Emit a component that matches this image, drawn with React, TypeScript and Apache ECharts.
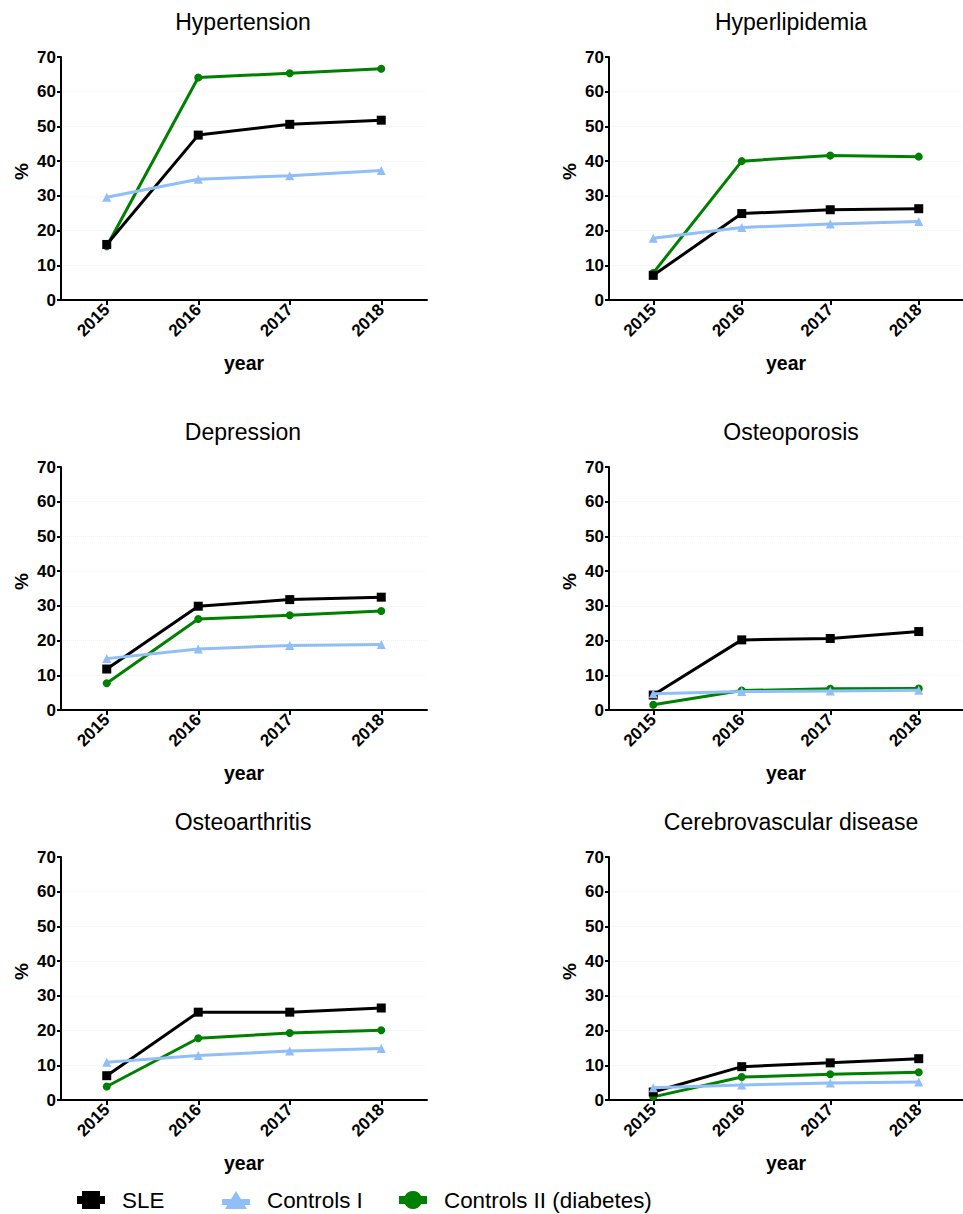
import React, { useEffect, useRef } from "react";
import * as echarts from "echarts";

const years = ["2015", "2016", "2017", "2018"];
const panelTitles = [
  "Hypertension",
  "Hyperlipidemia",
  "Depression",
  "Osteoporosis",
  "Osteoarthritis",
  "Cerebrovascular disease",
];
const yTicks = [0, 10, 20, 30, 40, 50, 60, 70];

// SLE
const hypertensionSLE = [16.0, 47.5, 50.6, 51.8];
const hyperlipidemiaSLE = [7.1, 24.9, 26.0, 26.3];
const depressionSLE = [11.8, 29.9, 31.8, 32.5];
const osteoporosisSLE = [4.3, 20.2, 20.6, 22.6];
const osteoarthritisSLE = [7.0, 25.3, 25.3, 26.5];
const cerebrovascularSLE = [2.3, 9.6, 10.7, 11.9];

// Controls I
const hypertensionC1 = [29.6, 34.8, 35.8, 37.3];
const hyperlipidemiaC1 = [17.8, 20.9, 21.9, 22.6];
const depressionC1 = [14.8, 17.6, 18.6, 18.9];
const osteoporosisC1 = [4.7, 5.3, 5.5, 5.7];
const osteoarthritisC1 = [10.9, 12.8, 14.1, 14.8];
const cerebrovascularC1 = [3.5, 4.3, 4.9, 5.2];

// Controls II (diabetes)
const hypertensionC2 = [15.5, 64.1, 65.3, 66.6];
const hyperlipidemiaC2 = [7.8, 40.0, 41.6, 41.3];
const depressionC2 = [7.7, 26.2, 27.3, 28.5];
const osteoporosisC2 = [1.5, 5.6, 6.1, 6.2];
const osteoarthritisC2 = [3.9, 17.8, 19.3, 20.1];
const cerebrovascularC2 = [0.9, 6.6, 7.4, 8.0];

const sleSets = [hypertensionSLE, hyperlipidemiaSLE, depressionSLE, osteoporosisSLE, osteoarthritisSLE, cerebrovascularSLE];
const c1Sets = [hypertensionC1, hyperlipidemiaC1, depressionC1, osteoporosisC1, osteoarthritisC1, cerebrovascularC1];
const c2Sets = [hypertensionC2, hyperlipidemiaC2, depressionC2, osteoporosisC2, osteoarthritisC2, cerebrovascularC2];

const seriesNames = ["SLE", "Controls I", "Controls II (diabetes)"];
const colors = ["#000000", "#90BEF8", "#008000"];
const legendIcons = [
  "path://M0,5 L5,5 L5,0 L23,0 L23,5 L28,5 L28,13 L23,13 L23,18 L5,18 L5,13 L0,13 Z",
  "path://M0,8 L9.1,8 L14,0 L18.9,8 L28,8 L28,14 L22.6,14 L25,18 L3,18 L5.4,14 L0,14 Z",
  "path://M0,5 L5.9,5 A9,9 0 0 1 22.1,5 L28,5 L28,13 L22.1,13 A9,9 0 0 1 5.9,13 L0,13 Z",
];

const FONT = "'Liberation Sans', Arial, Helvetica, sans-serif";

export default function App() {
  const ref = useRef<HTMLDivElement>(null);

  useEffect(() => {
    if (!ref.current) return;
    const chart = echarts.init(ref.current, null, { renderer: "svg" });

    const lefts = [61, 609];
    const tops = [57, 467, 857];
    const gw = 366;
    const gh = 243;

    const grids: any[] = [];
    const xAxes: any[] = [];
    const yAxes: any[] = [];
    const series: any[] = [];
    const graphics: any[] = [];

    for (let i = 0; i < 6; i++) {
      const col = i % 2;
      const row = Math.floor(i / 2);
      const left = lefts[col];
      const top = tops[row];
      grids.push({ left, top, width: gw, height: gh, containLabel: false });
      graphics.push({
        type: "text",
        x: left + gw / 2 - 1,
        y: top - 35,
        style: {
          text: panelTitles[i],
          font: `23px ${FONT}`,
          fill: "#000",
          textAlign: "center",
          textVerticalAlign: "middle",
        },
      });
      xAxes.push({
        type: "category",
        gridIndex: i,
        data: years,
        boundaryGap: true,
        name: "year",
        nameLocation: "middle",
        nameGap: 53,
        nameTextStyle: { fontFamily: FONT, fontWeight: "bold", fontSize: 19.5, color: "#000" },
        axisLine: { show: true, lineStyle: { color: "#000", width: 2 } },
        axisTick: { show: true, alignWithLabel: true, length: 5, lineStyle: { color: "#000", width: 2 } },
        axisLabel: { rotate: 45, margin: 7, fontFamily: FONT, fontWeight: "bold", fontSize: 17, color: "#000" },
        splitLine: { show: false },
      });
      yAxes.push({
        type: "value",
        gridIndex: i,
        min: yTicks[0],
        max: yTicks[yTicks.length - 1],
        interval: yTicks[1] - yTicks[0],
        name: "%",
        nameLocation: "middle",
        nameGap: 30,
        nameTextStyle: { fontFamily: FONT, fontWeight: "bold", fontSize: 19, color: "#000", padding: [0, 0, 0, 14] },
        axisLine: { show: true, lineStyle: { color: "#000", width: 2 } },
        axisTick: { show: true, length: 4, lineStyle: { color: "#000", width: 2 } },
        axisLabel: { margin: 5, fontFamily: FONT, fontWeight: "bold", fontSize: 17, color: "#000" },
        splitLine: { show: true, showMaxLine: false, showMinLine: false, lineStyle: { color: "#f0f0f0", width: 1, type: "dotted" } },
      });

      const common = {
        type: "line",
        xAxisIndex: i,
        yAxisIndex: i,
        emphasis: { disabled: true },
      };
      series.push({
        ...common,
        name: seriesNames[2],
        data: c2Sets[i],
        symbol: "circle",
        symbolSize: 8,
        itemStyle: { color: colors[2] },
        lineStyle: { width: 3, color: colors[2] },
        z: 2,
      });
      series.push({
        ...common,
        name: seriesNames[0],
        data: sleSets[i],
        symbol: "rect",
        symbolSize: 9,
        itemStyle: { color: colors[0] },
        lineStyle: { width: 3, color: colors[0] },
        z: 3,
      });
      series.push({
        ...common,
        name: seriesNames[1],
        data: c1Sets[i],
        symbol: "triangle",
        symbolSize: 9,
        itemStyle: { color: colors[1] },
        lineStyle: { width: 3, color: colors[1] },
        z: 4,
      });
    }

    const legendLefts = [77, 222, 399];
    const legends = seriesNames.map((n, k) => ({
      data: [{ name: n, icon: legendIcons[k] }],
      left: legendLefts[k],
      top: 1189,
      padding: 0,
      itemWidth: 28,
      itemHeight: 21,
      itemGap: 10,
      selectedMode: false,
      textStyle: { fontFamily: FONT, fontSize: 22.4, lineHeight: 22, color: "#000", padding: [0, 0, 0, 12] },
    }));

    chart.setOption({
      animation: false,
      backgroundColor: "#ffffff",
      textStyle: { fontFamily: FONT },
      grid: grids,
      xAxis: xAxes,
      yAxis: yAxes,
      series,
      legend: legends,
      graphic: graphics,
    });

    return () => chart.dispose();
  }, []);

  return (
    <div
      ref={ref}
      style={{ position: "absolute", left: 0, top: 0, width: 963, height: 1214, background: "#fff" }}
    />
  );
}
